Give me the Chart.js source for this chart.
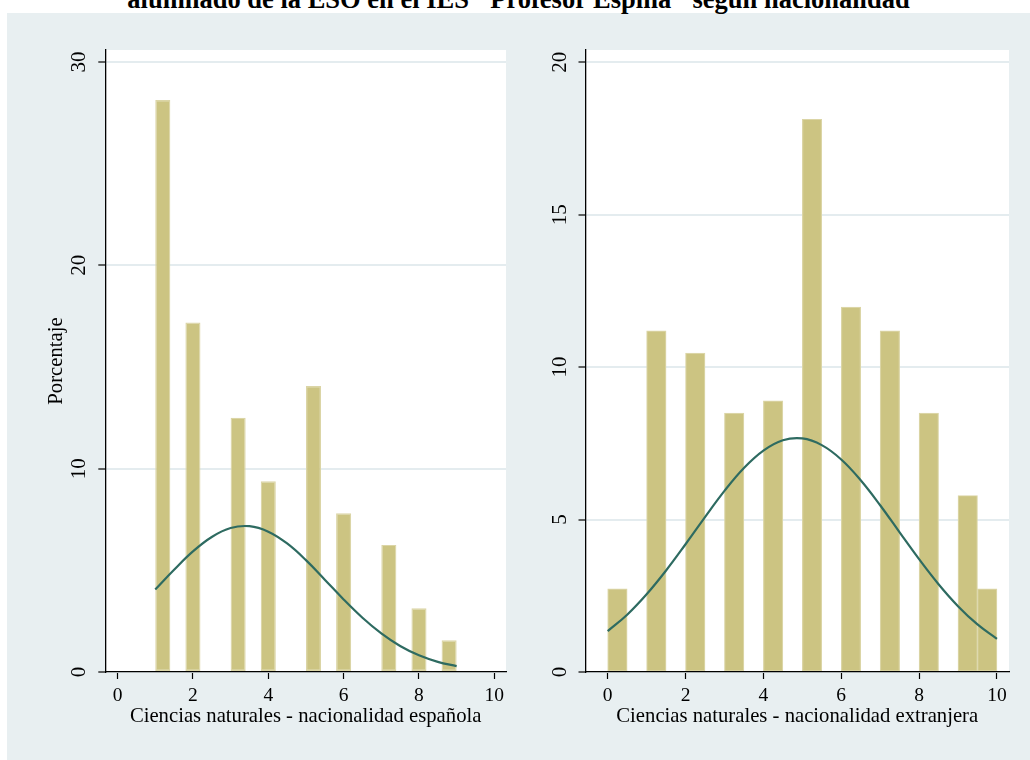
<!DOCTYPE html>
<html lang="es">
<head>
<meta charset="utf-8">
<title>Ciencias naturales según nacionalidad</title>
<script src="https://cdn.jsdelivr.net/npm/chart.js@4.4.1/dist/chart.umd.min.js"></script>
<style>
  html, body { margin: 0; padding: 0; background: #ffffff; }
  body { width: 1030px; height: 760px; position: relative; overflow: hidden; }
  #fondo { position: absolute; left: 7px; top: 13px; right: 0; bottom: 0; background: #e8eff1; }
  #titulo {
    position: absolute; left: 0; width: 1037px; top: -13.7px;
    text-align: center; white-space: nowrap; color: #000;
    font: bold 26.5px/26.5px "Liberation Serif", "Times New Roman", serif;
  }
  .panel { position: absolute; top: 0; width: 515px; height: 760px; }
  #p1 { left: 0; }
  #p2 { left: 515px; }
</style>
</head>
<body>
<div id="fondo"></div>
<div id="titulo">alumnado de la ESO en el IES "Profesor Espina" según nacionalidad</div>
<div class="panel" id="p1"><canvas id="c1" width="515" height="760"></canvas></div>
<div class="panel" id="p2"><canvas id="c2" width="515" height="760"></canvas></div>
<script>
// ---- Alumnado de nacionalidad española ----
const espBinStart = [1.0, 1.8, 3.0, 3.8, 5.0, 5.8, 7.0, 7.8, 8.6];
const espBinWidth = 0.4;
const espPct      = [28.13, 17.19, 12.50, 9.38, 14.06, 7.81, 6.25, 3.13, 1.56];
const espCurveX   = [1, 1.5, 2, 2.5, 3, 3.5, 4, 4.5, 5, 5.5, 6, 6.5, 7, 7.5, 8, 8.5, 9];
const espCurveY   = [4.06, 5.03, 5.93, 6.64, 7.08, 7.17, 6.90, 6.32, 5.50, 4.54, 3.57, 2.67, 1.90, 1.28, 0.82, 0.50, 0.29];
const espYTicks   = [0, 10, 20, 30];

// ---- Alumnado de nacionalidad extranjera ----
const extBinStart = [0, 1, 2, 3, 4, 5, 6, 7, 8, 9, 9.5];
const extBinWidth = 0.5;
const extPct      = [2.73, 11.19, 10.46, 8.49, 8.89, 18.13, 11.97, 11.19, 8.49, 5.79, 2.73];
const extCurveX   = [0, 0.5, 1, 1.5, 2, 2.5, 3, 3.5, 4, 4.5, 5, 5.5, 6, 6.5, 7, 7.5, 8, 8.5, 9, 9.5, 10];
const extCurveY   = [1.34, 1.88, 2.55, 3.33, 4.19, 5.08, 5.94, 6.69, 7.26, 7.60, 7.66, 7.44, 6.97, 6.29, 5.47, 4.58, 3.70, 2.88, 2.16, 1.56, 1.09];
const extYTicks   = [0, 5, 10, 15, 20];

const xTicks = [0, 2, 4, 6, 8, 10];

const SERIF = '"Liberation Serif", "Times New Roman", serif';
const xTickFont = { family: SERIF, size: 19.5 };
const yTickFont = { family: SERIF, size: 21 };
const titleFont = { family: SERIF, size: 20.7 };

// white plotting region behind the bars
const plotBackground = {
  id: 'plotBackground',
  beforeDraw(chart) {
    const { ctx, chartArea: a } = chart;
    ctx.save();
    ctx.fillStyle = '#ffffff';
    ctx.fillRect(a.left, a.top, a.right - a.left, a.bottom - a.top);
    ctx.restore();
  }
};

function histogram(canvasId, o) {
  const bars = o.binStart.map((s, i) => ({ x: s + o.binWidth / 2, y: o.pct[i] }));
  const curve = o.curveX.map((x, i) => ({ x, y: o.curveY[i] }));
  // bars are sized from the closest pair of bin centres so each one fills its bin
  let gap = Infinity;
  for (let i = 1; i < bars.length; i++) gap = Math.min(gap, bars[i].x - bars[i - 1].x);

  return new Chart(document.getElementById(canvasId), {
    type: 'bar',
    data: {
      datasets: [
        {
          type: 'line',
          data: curve,
          borderColor: '#2e6b61',
          borderWidth: 2.2,
          pointRadius: 0,
          tension: 0.4,
          fill: false
        },
        {
          type: 'bar',
          data: bars,
          backgroundColor: '#ccc482',
          borderColor: '#dbd5a6',
          borderWidth: 1.2,
          borderSkipped: false,
          barPercentage: o.binWidth / gap,
          categoryPercentage: 1
        }
      ]
    },
    options: {
      responsive: false,
      animation: false,
      events: [],
      layout: { padding: o.padding },
      plugins: { legend: { display: false }, tooltip: { enabled: false } },
      scales: {
        x: {
          type: 'linear',
          min: o.xMin, max: o.xMax,
          offset: false,
          afterBuildTicks: s => { s.ticks = xTicks.map(v => ({ value: v })); },
          afterFit: s => { s.height = 57; },
          ticks: { color: '#000', font: xTickFont, padding: 5.5, maxRotation: 0, autoSkip: false },
          grid: { drawOnChartArea: false, drawTicks: true, tickLength: 7, tickColor: '#000', tickWidth: 1.2, offset: false },
          border: { display: true, color: '#000', width: 1.3, z: 1 },
          title: { display: true, text: o.xTitle, color: '#000', font: titleFont, padding: { top: 0, bottom: 0 } }
        },
        y: {
          type: 'linear',
          min: 0, max: o.yMax,
          afterBuildTicks: s => { s.ticks = o.yTicks.map(v => ({ value: v })); },
          afterFit: s => { s.width = o.yAxisWidth; },
          ticks: { color: '#000', font: yTickFont, padding: 8, minRotation: 90, maxRotation: 90, crossAlign: 'center', autoSkip: false },
          grid: { color: '#e4ecef', lineWidth: 2, drawTicks: true, tickLength: 7, tickColor: '#000', tickWidth: 1.2 },
          border: { display: true, color: '#000', width: 1.3, z: 1 },
          title: { display: !!o.yTitle, text: o.yTitle || '', color: '#000', font: titleFont, padding: { top: 0, bottom: 0 } }
        }
      }
    },
    plugins: [plotBackground]
  });
}

histogram('c1', {
  binStart: espBinStart, binWidth: espBinWidth, pct: espPct,
  curveX: espCurveX, curveY: espCurveY, yTicks: espYTicks,
  xMin: -0.326, xMax: 10.31, yMax: 30.59,
  xTitle: 'Ciencias naturales - nacionalidad española',
  yTitle: 'Porcentaje',
  yAxisWidth: 60.7,
  padding: { left: 44.6, right: 9, top: 50, bottom: 31 }
});

histogram('c2', {
  binStart: extBinStart, binWidth: extBinWidth, pct: extPct,
  curveX: extCurveX, curveY: extCurveY, yTicks: extYTicks,
  xMin: -0.57, xMax: 10.31, yMax: 20.40,
  xTitle: 'Ciencias naturales - nacionalidad extranjera',
  yAxisWidth: 70.5,
  padding: { left: 0, right: 21, top: 50, bottom: 31 }
});
</script>
</body>
</html>
